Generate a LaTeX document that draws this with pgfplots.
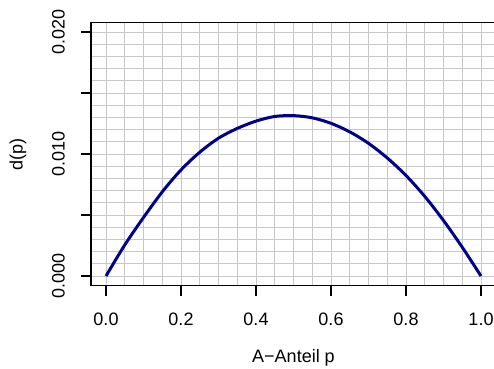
\documentclass[border=0pt]{standalone}
\usepackage{pgfplots}
\pgfplotsset{compat=1.18}
\usepackage{fontspec}
\setmainfont{Liberation Sans}
\definecolor{curve}{HTML}{00008B}
\definecolor{gridc}{HTML}{C8C8C8}
\begin{document}
\fontsize{18bp}{22bp}\selectfont%
\begin{tikzpicture}
\useasboundingbox (0bp,0bp) rectangle (494bp,369bp);
\begin{axis}[
  at={(91bp,83.2bp)}, anchor=south west,
  scale only axis, width=405bp, height=263.5bp,
  xmin=-0.04, xmax=1.04, ymin=-0.0008, ymax=0.0208,
  axis x line=box, axis y line*=left, axis line style={-, line width=1.2bp, black},
  xtick pos=left, ytick pos=left,
  xtick={0,0.2,0.4,0.6,0.8,1.0},
  xticklabels={0.0,0.2,0.4,0.6,0.8,1.0},
  ytick={0,0.005,0.01,0.015,0.02},
  yticklabels={0.000,,0.010,,0.020},
  minor xtick={0,0.05,0.1,0.15,0.2,0.25,0.3,0.35,0.4,0.45,0.5,0.55,0.6,0.65,0.7,0.75,0.8,0.85,0.9,0.95,1.0},
  minor ytick={0,0.001,0.002,0.003,0.004,0.005,0.006,0.007,0.008,0.009,0.010,0.011,0.012,0.013,0.014,0.015,0.016,0.017,0.018,0.019,0.020},
  grid=both,
  major grid style={gridc, line width=0.9bp},
  minor grid style={gridc, line width=0.9bp},
  minor tick length=0pt,
  tick align=outside, major tick length=10bp,
  tick style={black, line width=1.2bp},
  scaled y ticks=false,
  /pgf/number format/assume math mode=true,
  xticklabel style={anchor=north, yshift=-11bp},
  yticklabel style={rotate=90, anchor=south, yshift=10bp},
  xlabel={A−Anteil p},
  ylabel={d(p)},
  xlabel style={at={(axis description cs:0.5,0)}, anchor=center, yshift=-72bp},
  ylabel style={at={(axis description cs:0,0.5)}, anchor=center, yshift=73bp},
  clip=true,
]
\addplot[curve, line width=3bp, smooth] coordinates {
(0.00,0) (0.05,0.00255) (0.10,0.0048) (0.15,0.0069) (0.20,0.0087) (0.25,0.01015)
(0.30,0.0113) (0.35,0.0121) (0.40,0.0127) (0.45,0.01308) (0.50,0.01315) (0.55,0.01297)
(0.60,0.01252) (0.65,0.01182) (0.70,0.01088) (0.75,0.00968) (0.80,0.00824) (0.85,0.00653)
(0.90,0.00455) (0.95,0.00236) (1.00,0)
};
\end{axis}
\end{tikzpicture}%
\end{document}
